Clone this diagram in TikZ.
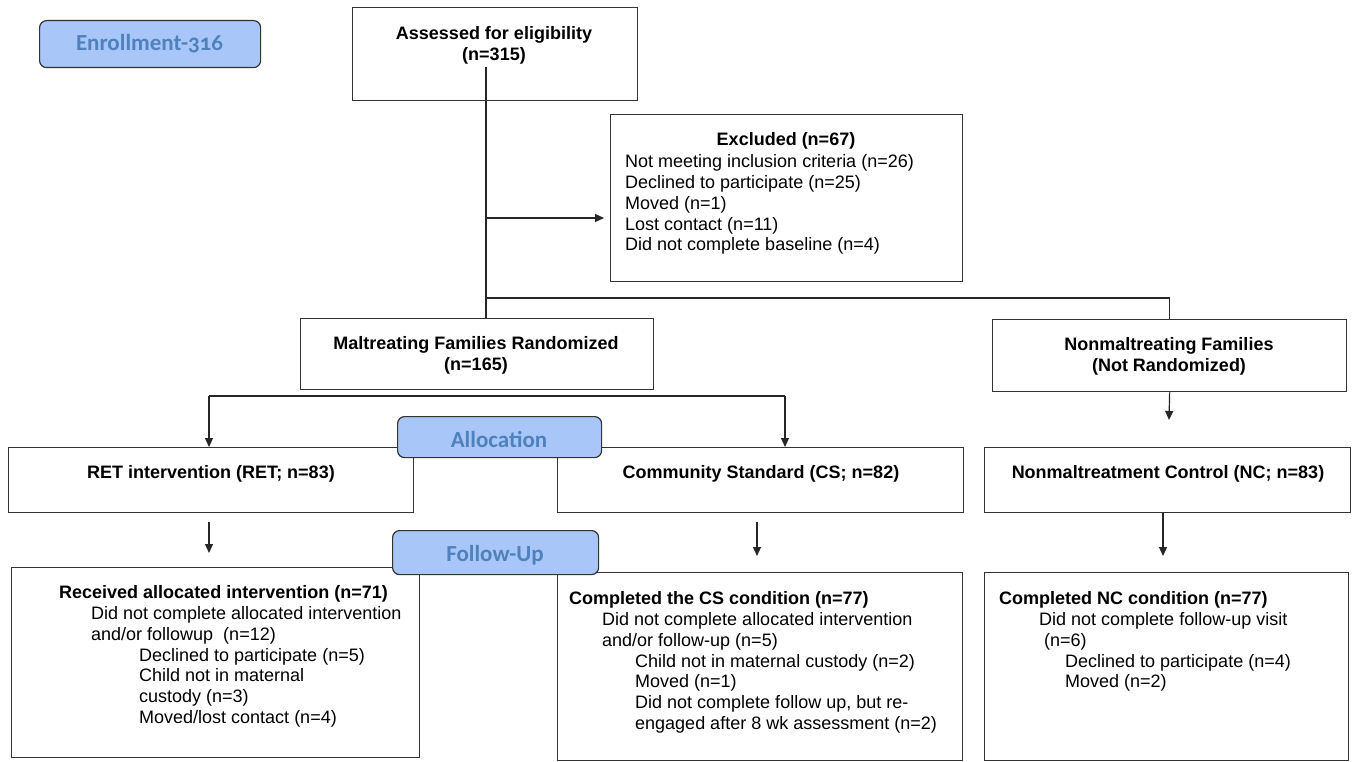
\documentclass[tikz,border=0pt]{standalone}
\usepackage{fontspec}
\setmainfont{Liberation Sans}
\newfontfamily\labfont[Numbers=OldStyle]{Carlito}
\usetikzlibrary{arrows.meta}
\definecolor{labfill}{HTML}{A8C6F8}
\definecolor{labtext}{HTML}{4F81BD}
\definecolor{edge}{HTML}{333333}
\begin{document}
\begin{tikzpicture}[x=1pt,y=-1pt,
  box/.style={draw=edge, line width=1.3pt, fill=white, inner sep=0pt, anchor=north west},
  lab/.style={draw=edge, line width=1.2pt, fill=labfill, rounded corners=7pt, inner sep=0pt, anchor=north west},
  labtxt/.style={font=\labfont\bfseries\fontsize{23}{26}\selectfont, text=labtext, inner sep=0pt, anchor=base},
  txt/.style={font=\fontsize{18}{20.8}\selectfont, inner sep=0pt},
  btxt/.style={font=\fontsize{18}{20.8}\selectfont\bfseries, inner sep=0pt},
  conn/.style={draw=black!85, line width=1.2pt},
  arr/.style={conn, -{Triangle[length=9pt,width=8pt]}}
]
\useasboundingbox[fill=white] (0,0) rectangle (1355,762);

% enrollment label
\node[lab, minimum width=221pt, minimum height=47pt] (enroll) at (39,20) {};
\node[labtxt] (enrolltxt) at (149.5,50.5) {Enrollment-316};

% assessed
\node[box, minimum width=285pt, minimum height=93pt] (assess) at (352,7) {};
\node[btxt, align=center, anchor=north] (assesstxt) at (494,26.4) {Assessed for eligibility\\(n=315)};

% excluded
\node[box, minimum width=352pt, minimum height=167pt] (excl) at (610,114) {};
\node[btxt, anchor=base] (excltitle) at (786,145.5) {Excluded (n=67)};
\node[txt, align=left, anchor=north west] (excllist) at (625,154.4) {Not meeting inclusion criteria (n=26)\\Declined to participate (n=25)\\Moved (n=1)\\Lost contact (n=11)\\Did not complete baseline (n=4)};

% maltreating / nonmaltreating
\node[box, minimum width=353pt, minimum height=71pt] (malt) at (300,318) {};
\node[btxt, align=center, anchor=north] (malttxt) at (476,336.4) {Maltreating Families Randomized\\(n=165)};
\node[box, minimum width=354pt, minimum height=72pt] (nonmal) at (992,319) {};
\node[btxt, align=center, anchor=north] (nonmaltxt) at (1169,337.4) {Nonmaltreating Families\\(Not Randomized)};

% allocation row
\node[box, minimum width=405pt, minimum height=65pt] (ret) at (8,447) {};
\node[btxt, anchor=base] (rettxt) at (211,478.5) {RET intervention (RET; n=83)};
\node[box, minimum width=406pt, minimum height=65pt] (cs) at (557,447) {};
\node[btxt, anchor=base] (cstxt) at (761,478.5) {Community Standard (CS; n=82)};
\node[box, minimum width=366pt, minimum height=65pt] (nc) at (984,447) {};
\node[btxt, anchor=base] (nctxt) at (1168,478.5) {Nonmaltreatment Control (NC; n=83)};

% follow-up row
\node[box, minimum width=408pt, minimum height=190pt] (retfu) at (11,567) {};
\node[txt, align=left, anchor=north west] (retfutxt) at (59,585.4) {{\bfseries Received allocated intervention (n=71)}\\
\hspace*{32pt}Did not complete allocated intervention\\
\hspace*{32pt}and/or followup\ \ (n=12)\\
\hspace*{80pt}Declined to participate (n=5)\\
\hspace*{80pt}Child not in maternal\\
\hspace*{80pt}custody (n=3)\\
\hspace*{80pt}Moved/lost contact (n=4)};

\node[box, minimum width=405pt, minimum height=188pt] (csfu) at (557,572) {};
\node[txt, align=left, anchor=north west] (csfutxt) at (569,591.4) {{\bfseries Completed the CS condition (n=77)}\\
\hspace*{33pt}Did not complete allocated intervention\\
\hspace*{33pt}and/or follow-up (n=5)\\
\hspace*{66pt}Child not in maternal custody (n=2)\\
\hspace*{66pt}Moved (n=1)\\
\hspace*{66pt}Did not complete follow up, but re-\\
\hspace*{66pt}engaged after 8 wk assessment (n=2)};

\node[box, minimum width=364pt, minimum height=188pt] (ncfu) at (984,572) {};
\node[txt, align=left, anchor=north west] (ncfutxt) at (999,591.4) {{\bfseries Completed NC condition (n=77)}\\
\hspace*{40pt}Did not complete follow-up visit\\
\hspace*{40pt}\ (n=6)\\
\hspace*{66pt}Declined to participate (n=4)\\
\hspace*{66pt}Moved (n=2)};

% connectors
\coordinate (trunktop) at (486,67);
\coordinate (split1) at (486,218);
\coordinate (split2) at (486,298);
\coordinate (excltip) at (604,218);
\draw[conn] (trunktop) -- (trunktop |- malt.north);
\draw[arr] (split1) -- (excltip);
\draw[conn] (split2) -- (split2 -| nonmal.north) -- (nonmal.north);
\coordinate (nctip) at (1169,420);
\draw[arr] (nonmal.south) -- (nctip);

\coordinate (bl) at (209,396);
\coordinate (br) at (785,396);
\draw[conn] (bl) -- (br);
\draw[arr] (bl) -- (bl |- ret.north);
\draw[arr] (br) -- (br |- cs.north);

\coordinate (r1) at (209,522);
\coordinate (r2) at (209,553);
\draw[arr] (r1) -- (r2);
\coordinate (c1) at (757,522);
\coordinate (c2) at (757,556);
\draw[arr] (c1) -- (c2);
\coordinate (n2) at (1163,556);
\draw[arr] (n2 |- nc.south) -- (n2);

% phase labels on top
\node[lab, minimum width=204pt, minimum height=41pt] (alloc) at (397,416) {};
\node[labtxt] (alloctxt) at (499,447.4) {Allocation};
\node[lab, minimum width=206pt, minimum height=44pt] (follow) at (392,530) {};
\node[labtxt] (followtxt) at (495,561.4) {Follow-Up};
\end{tikzpicture}
\end{document}
